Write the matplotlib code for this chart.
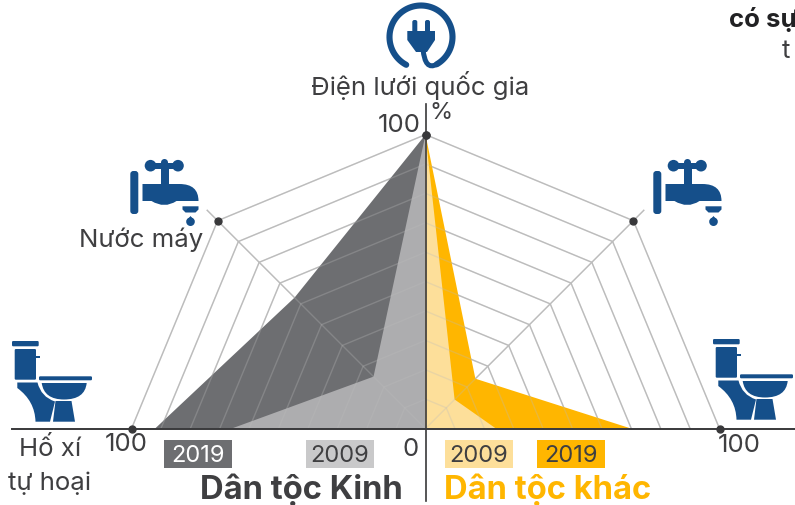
import matplotlib
matplotlib.use("Agg")
import matplotlib.pyplot as plt
import numpy as np
from matplotlib.patches import Circle, FancyBboxPatch, PathPatch, Rectangle
from matplotlib.path import Path

# gia tri doc tu hinh (%), thu tu: dien luoi, nuoc may, ho xi tu hoai
kinh_2019 = [100, 63, 92]
kinh_2009 = [100, 25, 66]
khac_2019 = [100, 24, 70]
khac_2009 = [100, 14, 24]
grid_levels = [10, 20, 30, 40, 50, 60, 70, 80, 90, 100]

# tieu chi nam tren 3 huong: 90, 135, 180 do (ben trai) va doi xung ben phai
angles_left = np.radians([90, 135, 180])
angles_right = np.radians([90, 45, 0])

BLUE = "#154f8a"
TEXT = "#3f3f41"
DARK = "#6d6e71"
GREY = "#adadaf"
ORANGE = "#ffb600"
LIGHT = "#fddf9a"
GRID = "#bcbcbc"
FONT = ["Inter", "Noto Sans", "DejaVu Sans"]

plt.rcParams["font.family"] = FONT

fig = plt.figure(figsize=(7.95, 5.06), dpi=100)

# truc chinh: don vi la %, 1% = 2.94 px, goc toa do o (425.5, 429.6)
SCALE = 2.94
ax = fig.add_axes([0, 0, 1, 1])
ax.set_xlim(-425.5 / SCALE, (795 - 425.5) / SCALE)
ax.set_ylim((429.6 - 506) / SCALE, 429.6 / SCALE)
ax.axis("off")

# truc phu theo pixel cho chu va icon
px = fig.add_axes([0, 0, 1, 1], facecolor="none")
px.set_xlim(0, 795)
px.set_ylim(506, 0)
px.axis("off")


def to_xy(values, angles):
    values = np.asarray(values, dtype=float)
    return values * np.cos(angles), values * np.sin(angles)


def polygon(values, angles, color, z):
    x, y = to_xy(values, angles)
    ax.fill(np.r_[0, x], np.r_[0, y], color=color, lw=0, zorder=z)


def draw_grid(z, alpha=1.0):
    for angles in (angles_left, angles_right):
        for level in grid_levels:
            x, y = to_xy([level] * 3, angles)
            ax.plot(x, y, color=GRID, lw=1.0, alpha=alpha, zorder=z)
        x, y = to_xy([0, 105], np.array([angles[1], angles[1]]))
        ax.plot(x, y, color=GRID, lw=1.0, alpha=alpha, zorder=z)


draw_grid(1)
polygon(kinh_2019, angles_left, DARK, 2)
polygon(kinh_2009, angles_left, GREY, 3)
polygon(khac_2019, angles_right, ORANGE, 2)
polygon(khac_2009, angles_right, LIGHT, 3)
draw_grid(4, alpha=0.3)

# truc ngang, truc doc va cac diem dau muc
ax.plot([(12 - 425.5) / SCALE, 370 / SCALE], [0, 0], color="#38383a", lw=1.4, zorder=5)
ax.plot([0, 0], [-72 / SCALE, 325 / SCALE], color="#38383a", lw=1.2, zorder=5)
for angles in (angles_left, angles_right):
    x, y = to_xy([100] * 3, angles)
    ax.plot(x, y, ls="none", marker="o", ms=5, color="#38383a", zorder=6, clip_on=False)


def faucet(x0, y0):
    parts = [
        FancyBboxPatch((x0 + 0.8, y0 + 12), 8, 43, boxstyle="round,pad=0,rounding_size=3"),
        Circle((x0 + 21, y0 + 6.7), 5.8),
        Circle((x0 + 48.5, y0 + 6.7), 5.8),
        Circle((x0 + 35, y0 + 3.5), 3.5),
        Rectangle((x0 + 21, y0 + 4), 27.5, 5.5),
        Rectangle((x0 + 31, y0 + 6), 8, 20),
        Circle((x0 + 61, y0 + 62.7), 4.3),
    ]
    for p in parts:
        p.set(facecolor=BLUE, edgecolor="none", zorder=8)
        px.add_patch(p)
    body = Path(
        [(x0 + 13, y0 + 25), (x0 + 50, y0 + 25), (x0 + 69, y0 + 25), (x0 + 69, y0 + 42),
         (x0 + 52.7, y0 + 42), (x0 + 47, y0 + 42), (x0 + 35, y0 + 50), (x0 + 22, y0 + 42),
         (x0 + 13, y0 + 42), (x0 + 13, y0 + 25)],
        [Path.MOVETO, Path.LINETO, Path.CURVE3, Path.CURVE3,
         Path.LINETO, Path.LINETO, Path.CURVE3, Path.CURVE3,
         Path.LINETO, Path.CLOSEPOLY],
    )
    px.add_patch(PathPatch(body, facecolor=BLUE, edgecolor="none", zorder=8))
    cap = [(x0 + 53, y0 + 47.3), (x0 + 69, y0 + 47.3), (x0 + 69, y0 + 50.5),
           (x0 + 66, y0 + 53.5), (x0 + 56, y0 + 53.5), (x0 + 53, y0 + 50.5)]
    px.fill(*zip(*cap), color=BLUE, lw=0, zorder=8)
    drop = [(x0 + 61, y0 + 57), (x0 + 65, y0 + 62), (x0 + 57, y0 + 62)]
    px.fill(*zip(*drop), color=BLUE, lw=0, zorder=8)


def toilet(x0, y0):
    for rect in [(0, 0, 26.7, 5.3), (2.7, 8, 21.3, 30.7), (27, 35.3, 53, 4)]:
        p = FancyBboxPatch((x0 + rect[0], y0 + rect[1]), rect[2], rect[3],
                           boxstyle="round,pad=0,rounding_size=1.2",
                           facecolor=BLUE, edgecolor="none", zorder=8)
        px.add_patch(p)
    px.add_patch(Rectangle((x0 + 24, y0 + 14.5), 4, 2.5, color=BLUE, lw=0, zorder=8))
    bowl = Path(
        [(x0 + 29.7, y0 + 42), (x0 + 74.7, y0 + 42), (x0 + 73, y0 + 58.5), (x0 + 52, y0 + 58.5),
         (x0 + 32, y0 + 58.5), (x0 + 29.7, y0 + 42), (x0 + 29.7, y0 + 42)],
        [Path.MOVETO, Path.LINETO, Path.CURVE3, Path.CURVE3, Path.CURVE3, Path.CURVE3, Path.CLOSEPOLY],
    )
    px.add_patch(PathPatch(bowl, facecolor=BLUE, edgecolor="none", zorder=8))
    left_leg = Path(
        [(x0 + 5.3, y0 + 41.5), (x0 + 25.5, y0 + 41.5), (x0 + 29, y0 + 56), (x0 + 43, y0 + 60.5),
         (x0 + 38, y0 + 80.7), (x0 + 23.5, y0 + 80.7), (x0 + 23, y0 + 60), (x0 + 5.3, y0 + 47),
         (x0 + 5.3, y0 + 41.5)],
        [Path.MOVETO, Path.LINETO, Path.CURVE3, Path.CURVE3,
         Path.LINETO, Path.LINETO, Path.CURVE3, Path.CURVE3, Path.CLOSEPOLY],
    )
    px.add_patch(PathPatch(left_leg, facecolor=BLUE, edgecolor="none", zorder=8))
    foot = [(x0 + 43.5, y0 + 60), (x0 + 59.5, y0 + 60), (x0 + 63, y0 + 80.7), (x0 + 41, y0 + 80.7)]
    px.fill(*zip(*foot), color=BLUE, lw=0, zorder=8)


def plug():
    t = np.radians(np.linspace(118, 420, 80))
    ring = np.c_[421 + 31.5 * np.cos(t), 38 + 31.5 * np.sin(t)]
    px.plot(ring[:, 0], ring[:, 1], color=BLUE, lw=4.4, solid_capstyle="round", zorder=8)
    cord = Path([ring[-1], (425, 72), (423, 50)], [Path.MOVETO, Path.CURVE3, Path.CURVE3])
    px.add_patch(PathPatch(cord, facecolor="none", edgecolor=BLUE, lw=3.6, zorder=8))
    for x in (412.3, 425):
        px.add_patch(FancyBboxPatch((x, 21), 5, 13, boxstyle="round,pad=0,rounding_size=2",
                                    facecolor=BLUE, edgecolor="none", zorder=8))
    body = [(407.3, 32), (435, 32), (435, 41), (427, 53), (416, 53), (407.3, 41)]
    px.fill(*zip(*body), color=BLUE, lw=0, zorder=8)


plug()
faucet(129.5, 160)
faucet(652.5, 160)
toilet(12, 342)
toilet(713, 340)


def label(x, y, s, size=18.6, color=TEXT, ha="center", weight="normal"):
    px.text(x, y, s, fontsize=size, color=color, ha=ha, va="center", weight=weight, zorder=9)


label(420, 85, "Điện lưới quốc gia")
label(441, 113, "%", size=17)
label(399, 125, "100")
label(141, 240, "Nước máy")
label(50, 449, "Hố xí")
label(50, 483, "tự hoại")
label(126, 445, "100")
label(411, 450, "0")
label(739, 446, "100")
label(729, 19, "có sự", color="#222224", ha="left", weight="bold")
label(786, 51, "t")

for x, color, year, tcolor in [(164, DARK, "2019", "#ffffff"), (306, "#c9c9ca", "2009", TEXT),
                               (445, LIGHT, "2009", TEXT), (537, ORANGE, "2019", TEXT)]:
    px.add_patch(Rectangle((x, 441), 68, 28, facecolor=color, edgecolor="none", zorder=7))
    label(x + 34, 456, year, size=17, color=tcolor)

label(403, 490, "Dân tộc Kinh", size=23.6, ha="right", weight="bold")
label(444, 490, "Dân tộc khác", size=23.6, color=ORANGE, ha="left", weight="bold")

fig.savefig("out.png", dpi=100)
